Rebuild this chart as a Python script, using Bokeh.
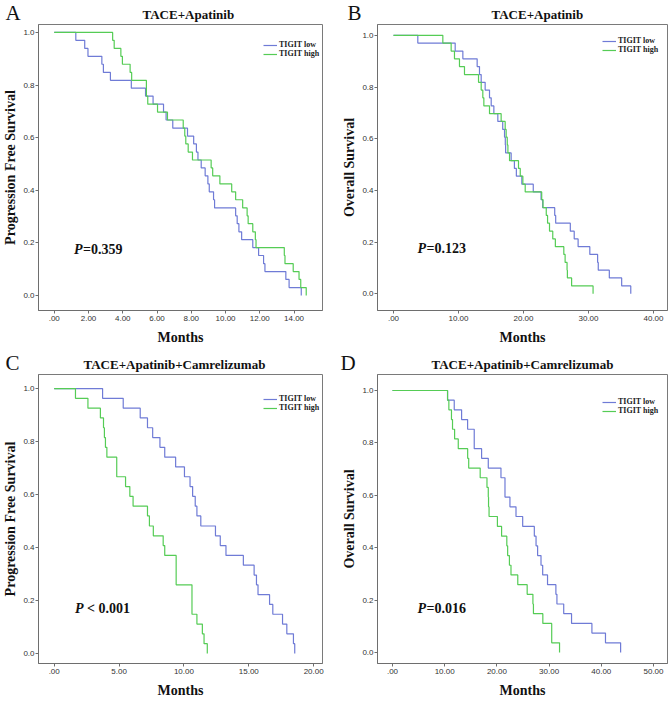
from bokeh.plotting import figure
from bokeh.models import Range1d, FixedTicker, Label, Legend
from bokeh.layouts import column, row
from bokeh.embed import file_html
from bokeh.resources import INLINE

# ---------------- data ----------------
surv33 = [1.0, 0.970, 0.939, 0.909, 0.879, 0.848, 0.818, 0.788, 0.758, 0.727, 0.697,
          0.667, 0.636, 0.606, 0.576, 0.545, 0.515, 0.485, 0.455, 0.424, 0.394, 0.364,
          0.333, 0.303, 0.273, 0.242, 0.212, 0.182, 0.152, 0.121, 0.091, 0.061, 0.030, 0.0]
surv27 = [1.0, 0.963, 0.926, 0.889, 0.852, 0.815, 0.778, 0.741, 0.704, 0.667, 0.630,
          0.593, 0.556, 0.519, 0.481, 0.444, 0.407, 0.370, 0.333, 0.296, 0.259, 0.222,
          0.185, 0.148, 0.111, 0.074, 0.037, 0.0]

A_low_t = [0, 1.26, 1.78, 1.97, 2.78, 2.87, 3.28, 4.50, 5.33, 5.77, 6.38, 6.53, 6.92,
           7.78, 8.14, 8.30, 8.39, 8.58, 8.81, 8.97, 9.05, 9.30, 9.36, 10.59, 10.68,
           10.78, 10.94, 11.59, 11.93, 12.22, 12.30, 13.52, 13.71, 14.42]
A_high_t = [0, 3.41, 3.50, 3.89, 3.98, 4.43, 4.52, 5.38, 5.38, 5.46, 6.03, 6.61, 7.53,
            7.62, 7.68, 7.82, 8.07, 9.16, 9.25, 9.67, 10.36, 10.59, 11.00, 11.26, 11.32,
            11.59, 11.74, 11.78, 13.43, 13.47, 13.95, 14.29, 14.39, 14.71]
B_low_t = [0, 3.74, 9.49, 10.67, 12.87, 13.23, 13.49, 14.10, 14.77, 15.03, 15.44, 16.05,
           16.80, 17.08, 17.20, 17.25, 18.10, 18.60, 18.90, 19.74, 21.50, 22.70, 22.95,
           24.80, 24.95, 27.20, 27.80, 28.40, 30.20, 31.40, 31.50, 33.20, 35.10, 36.50]
B_high_t = [0, 7.59, 8.87, 9.38, 10.15, 10.92, 13.08, 13.49, 13.74, 13.90, 14.77, 16.56,
            17.18, 17.33, 17.50, 17.60, 17.85, 19.23, 19.50, 19.90, 20.26, 22.80, 23.00,
            23.50, 23.70, 24.00, 24.50, 24.90, 26.20, 26.40, 26.70, 26.75, 27.40, 30.70]
C_low_t = [0, 3.73, 5.32, 6.63, 7.19, 7.59, 8.15, 8.52, 9.36, 10.04, 10.47, 10.67, 10.87,
           11.00, 11.30, 12.43, 12.80, 13.24, 14.58, 15.41, 15.59, 15.71, 16.60, 16.85,
           17.60, 17.93, 18.44, 18.54]
C_high_t = [0, 1.64, 2.60, 3.56, 3.80, 3.87, 3.95, 4.06, 4.82, 4.82, 5.50, 5.83, 6.08,
            7.19, 7.34, 7.64, 8.40, 8.52, 9.40, 9.40, 9.40, 10.62, 10.62, 10.62, 11.00,
            11.42, 11.55, 11.80]
D_low_t = [0, 10.55, 11.83, 13.24, 14.39, 15.66, 15.66, 17.07, 18.35, 20.78, 21.55,
           21.55, 22.50, 23.66, 24.94, 27.17, 27.50, 27.80, 28.45, 28.77, 29.70, 31.30,
           31.50, 32.80, 34.30, 38.20, 40.80, 43.70]
D_high_t = [0, 10.55, 10.80, 11.30, 11.50, 11.90, 12.60, 14.40, 14.60, 16.80, 18.10,
            18.35, 18.40, 18.50, 20.10, 20.90, 21.90, 22.06, 22.40, 22.70, 24.00, 25.80,
            26.90, 27.00, 28.80, 30.50, 30.50, 32.00]

A_xticks = [0, 2, 4, 6, 8, 10, 12, 14]
A_xlabels = [".00", "2.00", "4.00", "6.00", "8.00", "10.00", "12.00", "14.00"]
B_xticks = [0, 10, 20, 30, 40]
B_xlabels = [".00", "10.00", "20.00", "30.00", "40.00"]
C_xticks = [0, 5, 10, 15, 20]
C_xlabels = [".00", "5.00", "10.00", "15.00", "20.00"]
D_xticks = [0, 10, 20, 30, 40, 50]
D_xlabels = [".00", "10.00", "20.00", "30.00", "40.00", "50.00"]
yticks = [0.0, 0.2, 0.4, 0.6, 0.8, 1.0]
ylabels = ["0.0", "0.2", "0.4", "0.6", "0.8", "1.0"]

series_names = ["TIGIT low", "TIGIT high"]
panel_letters = ["A", "B", "C", "D"]
titles = ["TACE+Apatinib", "TACE+Apatinib", "TACE+Apatinib+Camrelizumab",
          "TACE+Apatinib+Camrelizumab"]
ylabels_axis = ["Progression Free Survival", "Overall Survival",
                "Progression Free Survival", "Overall Survival"]
p_texts = ["=0.359", "=0.123", "< 0.001", "=0.016"]

BLUE = "#6f7bd6"
GREEN = "#55cc55"
SERIF = "Liberation Serif"
SANS = "Liberation Sans"
HEADER_H = 24


def make_header(idx, w, letter_x, title_x):
    """Strip above a panel carrying the panel letter and the panel title."""
    hd = figure(width=w, height=HEADER_H, output_backend="svg", toolbar_location=None,
                title=None, x_range=Range1d(0, w), y_range=Range1d(0, HEADER_H),
                x_axis_location=None, y_axis_location=None,
                min_border_left=0, min_border_right=0, min_border_top=0,
                min_border_bottom=0)
    hd.outline_line_color = None
    hd.background_fill_alpha = 0
    hd.border_fill_alpha = 0
    hd.xgrid.visible = False
    hd.ygrid.visible = False
    hd.add_layout(Label(x=letter_x, y=HEADER_H, text=panel_letters[idx],
                        text_font=SERIF, text_font_size="21px", text_align="left",
                        text_baseline="top", text_color="#111111"))
    hd.add_layout(Label(x=title_x, y=10, text=titles[idx],
                        text_font=SERIF, text_font_style="bold",
                        text_font_size="13px", text_align="left",
                        text_baseline="alphabetic", text_color="#111111"))
    return hd


def make_panel(idx, low_t, high_t, surv, xticks, xlabels, xr, yr, w, h, borders,
               p_xy, legend_xy):
    left, right, top, bottom = borders
    p = figure(width=w, height=h, output_backend="svg", toolbar_location=None,
               title=None, x_range=Range1d(*xr), y_range=Range1d(*yr),
               min_border_left=left, min_border_right=right,
               min_border_top=top, min_border_bottom=bottom)
    p.background_fill_alpha = 0
    p.border_fill_alpha = 0
    p.outline_line_color = "#7a7a7a"
    p.outline_line_width = 1
    p.xgrid.visible = False
    p.ygrid.visible = False

    r1 = p.step(low_t, surv, mode="after", line_color=BLUE, line_width=1.2)
    r2 = p.step(high_t, surv, mode="after", line_color=GREEN, line_width=1.2)

    for ax in (p.xaxis[0], p.yaxis[0]):
        ax.axis_line_color = "#6e6e6e"
        ax.major_tick_line_color = "#6e6e6e"
        ax.major_tick_out = 3
        ax.major_tick_in = 0
        ax.minor_tick_line_color = None
        ax.major_label_text_font = SANS
        ax.major_label_text_font_size = "8px"
        ax.major_label_text_color = "#333333"
        ax.axis_label_text_font = SERIF
        ax.axis_label_text_font_style = "bold"
        ax.axis_label_text_font_size = "14px"
        ax.axis_label_text_color = "#111111"

    p.xaxis.ticker = FixedTicker(ticks=xticks)
    p.xaxis.major_label_overrides = {t: l for t, l in zip(xticks, xlabels)}
    p.xaxis.axis_label = "Months"
    p.xaxis.major_label_standoff = 2
    p.xaxis.axis_label_standoff = 6

    p.yaxis.ticker = FixedTicker(ticks=yticks)
    p.yaxis.major_label_overrides = {t: l for t, l in zip(yticks, ylabels)}
    p.yaxis.axis_label = ylabels_axis[idx]
    p.yaxis.major_label_standoff = 1
    p.yaxis.axis_label_standoff = 2

    legend = Legend(items=[(series_names[0], [r1]), (series_names[1], [r2])],
                    location=legend_xy)
    legend.label_text_font = SERIF
    legend.label_text_font_style = "bold"
    legend.label_text_font_size = "8px"
    legend.label_text_color = "#222222"
    legend.glyph_width = 14
    legend.glyph_height = 8
    legend.label_height = 8
    legend.label_standoff = 2
    legend.spacing = 0
    legend.padding = 0
    legend.margin = 0
    legend.border_line_alpha = 0
    legend.background_fill_alpha = 0
    p.add_layout(legend)

    # p-value
    p.add_layout(Label(x=p_xy[0], y=p_xy[1], text="P", text_font=SERIF,
                       text_font_style="bold italic", text_font_size="14px",
                       text_baseline="middle", text_color="#111111"))
    p.add_layout(Label(x=p_xy[0], y=p_xy[1], x_offset=12 if idx == 2 else 9,
                       text=p_texts[idx], text_font=SERIF, text_font_style="bold",
                       text_font_size="14px", text_baseline="middle",
                       text_color="#111111"))
    return p


W_L, W_R = 334, 335
H_TOP, H_BOT = 350 - HEADER_H, 351 - HEADER_H

hA = make_header(0, W_L, 5, 142)
hB = make_header(1, W_R, 13, 157)
hC = make_header(2, W_L, 5, 83)
hD = make_header(3, W_R, 6, 97)

pA = make_panel(0, A_low_t, A_high_t, surv33, A_xticks, A_xlabels,
                (-0.918, 15.66), (-0.057, 1.030), W_L, H_TOP, (33, 12, 0, 40),
                (1.15, 0.175), (225, 252))
pB = make_panel(1, B_low_t, B_high_t, surv33, B_xticks, B_xlabels,
                (-2.46, 42.15), (-0.065, 1.042), W_R, H_TOP, (43, 2, 0, 37),
                (3.7, 0.176), (225, 256))
pC = make_panel(2, C_low_t, C_high_t, surv27, C_xticks, C_xlabels,
                (-1.21, 20.68), (-0.038, 1.053), W_L, H_BOT, (33, 12, 0, 38),
                (1.6, 0.17), (225, 251))
pD = make_panel(3, D_low_t, D_high_t, surv27, D_xticks, D_xlabels,
                (-2.87, 52.68), (-0.042, 1.061), W_R, H_BOT, (43, 2, 0, 38),
                (4.8, 0.168), (225, 248))

layout = column(row(hA, hB), row(pA, pB), row(hC, hD), row(pC, pD))

open("out.html", "w").write(file_html(layout, INLINE))
